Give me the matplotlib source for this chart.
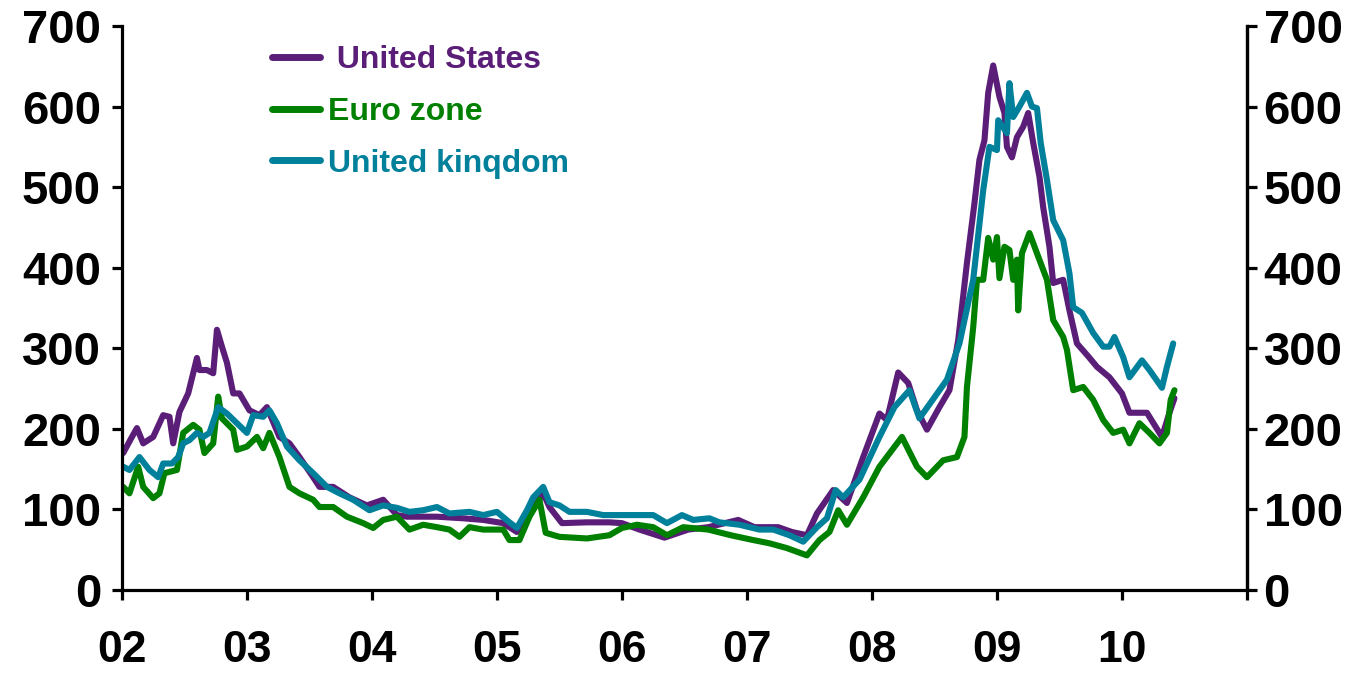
import numpy as np
import matplotlib
matplotlib.use("Agg")
import matplotlib.pyplot as plt

plt.rcParams['font.family'] = ['Liberation Sans', 'DejaVu Sans']
plt.rcParams['font.weight'] = 'bold'

# --- data (decimal year, value) ----------------------------------------------
us_t = [2002.01, 2002.08, 2002.12, 2002.17, 2002.25, 2002.33, 2002.38, 2002.41, 2002.46,
        2002.53, 2002.6, 2002.62, 2002.68, 2002.73, 2002.76, 2002.8, 2002.84, 2002.89,
        2002.94, 2003.02, 2003.1, 2003.16, 2003.26, 2003.34, 2003.42, 2003.53, 2003.58,
        2003.69, 2003.82, 2003.96, 2004.09, 2004.2, 2004.28, 2004.52, 2004.73, 2004.89,
        2005.05, 2005.16, 2005.24, 2005.37, 2005.42, 2005.52, 2005.72, 2005.9, 2006.0,
        2006.14, 2006.34, 2006.53, 2006.69, 2006.93, 2007.06, 2007.25, 2007.36, 2007.48,
        2007.56, 2007.69, 2007.8, 2007.93, 2008.06, 2008.12, 2008.21, 2008.29, 2008.36,
        2008.44, 2008.54, 2008.62, 2008.69, 2008.76, 2008.82, 2008.86, 2008.9, 2008.93,
        2008.97, 2009.02, 2009.06, 2009.08, 2009.12, 2009.16, 2009.21, 2009.25, 2009.29,
        2009.34, 2009.37, 2009.42, 2009.45, 2009.53, 2009.58, 2009.64, 2009.73, 2009.8,
        2009.9, 2010.0, 2010.06, 2010.2, 2010.3, 2010.32, 2010.38, 2010.42]
us_v = [170, 190, 201, 182, 190, 217, 215, 182, 221,
        244, 288, 273, 273, 269, 323, 302, 282, 244,
        244, 223, 217, 227, 190, 182, 165, 140, 128,
        128, 115, 105, 112, 93, 91, 91, 89, 87,
        83, 72, 91, 120, 103, 83, 84, 84, 83,
        75, 65, 75, 78, 87, 78, 78, 72, 68,
        95, 124, 108, 165, 219, 211, 270, 257, 223,
        199, 227, 248, 310, 406, 480, 534, 558, 617,
        651, 612, 592, 550, 537, 562, 575, 592, 555,
        513, 475, 426, 381, 385, 347, 306, 290, 277,
        264, 244, 220, 220, 195, 190, 220, 238]

ez_t = [2002.01, 2002.06, 2002.13, 2002.17, 2002.25, 2002.3, 2002.34, 2002.44, 2002.49,
        2002.57, 2002.62, 2002.66, 2002.73, 2002.77, 2002.8, 2002.89, 2002.92, 2003.0,
        2003.08, 2003.13, 2003.18, 2003.26, 2003.34, 2003.42, 2003.53, 2003.58, 2003.69,
        2003.8, 2003.93, 2004.01, 2004.09, 2004.2, 2004.3, 2004.41, 2004.52, 2004.62,
        2004.7, 2004.78, 2004.89, 2005.05, 2005.1, 2005.18, 2005.26, 2005.34, 2005.39,
        2005.5, 2005.72, 2005.9, 2006.0, 2006.12, 2006.25, 2006.36, 2006.49, 2006.69,
        2006.87, 2007.05, 2007.18, 2007.32, 2007.48, 2007.58, 2007.66, 2007.73, 2007.8,
        2007.93, 2008.06, 2008.24, 2008.36, 2008.44, 2008.57, 2008.68, 2008.74, 2008.76,
        2008.81, 2008.84, 2008.89, 2008.93, 2008.97, 2009.0, 2009.02, 2009.06, 2009.1,
        2009.13, 2009.16, 2009.17, 2009.2, 2009.26, 2009.32, 2009.4, 2009.45, 2009.53,
        2009.56, 2009.61, 2009.69, 2009.77, 2009.85, 2009.93, 2010.01, 2010.06, 2010.14,
        2010.22, 2010.3, 2010.36, 2010.39, 2010.42]
ez_v = [128, 120, 153, 128, 114, 120, 145, 149, 195,
        205, 199, 170, 182, 240, 213, 199, 174, 178,
        190, 176, 195, 165, 128, 120, 112, 103, 103,
        91, 83, 77, 87, 91, 75, 81, 78, 75,
        66, 78, 75, 75, 62, 62, 91, 112, 71,
        66, 64, 68, 77, 81, 78, 68, 78, 75,
        68, 62, 58, 52, 43, 62, 72, 99, 81,
        115, 153, 190, 153, 140, 161, 165, 190, 252,
        326, 385, 385, 437, 410, 438, 387, 426, 422,
        385, 410, 347, 418, 443, 418, 385, 335, 314,
        298, 248, 252, 236, 211, 195, 199, 182, 207,
        195, 182, 195, 236, 248]

uk_t = [2002.01, 2002.06, 2002.14, 2002.22, 2002.29, 2002.33, 2002.4, 2002.45, 2002.49,
        2002.54, 2002.6, 2002.65, 2002.7, 2002.77, 2002.84, 2002.92, 2003.0, 2003.05,
        2003.13, 2003.18, 2003.24, 2003.32, 2003.42, 2003.53, 2003.64, 2003.74, 2003.85,
        2003.98, 2004.09, 2004.2, 2004.3, 2004.41, 2004.52, 2004.62, 2004.78, 2004.89,
        2005.0, 2005.1, 2005.16, 2005.24, 2005.29, 2005.37, 2005.42, 2005.5, 2005.58,
        2005.72, 2005.85, 2006.06, 2006.14, 2006.25, 2006.36, 2006.48, 2006.57, 2006.7,
        2006.78, 2006.94, 2007.1, 2007.21, 2007.34, 2007.45, 2007.56, 2007.64, 2007.71,
        2007.77, 2007.9, 2008.06, 2008.18, 2008.3, 2008.38, 2008.6, 2008.7, 2008.81,
        2008.89, 2008.94, 2009.0, 2009.01, 2009.08, 2009.1, 2009.13, 2009.18, 2009.24,
        2009.28, 2009.32, 2009.35, 2009.4, 2009.45, 2009.53, 2009.58, 2009.61, 2009.68,
        2009.77, 2009.85, 2009.9, 2009.94, 2010.01, 2010.06, 2010.16, 2010.22, 2010.32,
        2010.36, 2010.41]
uk_v = [153, 149, 165, 149, 140, 157, 157, 165, 182,
        186, 195, 190, 195, 227, 219, 207, 195, 217,
        215, 223, 207, 178, 161, 145, 128, 120, 112,
        99, 105, 102, 97, 99, 103, 95, 97, 93,
        97, 84, 77, 99, 115, 128, 109, 105, 97,
        97, 93, 93, 93, 93, 83, 93, 87, 89,
        84, 81, 75, 75, 68, 60, 78, 89, 124,
        115, 137, 190, 227, 248, 213, 261, 306, 385,
        496, 550, 546, 583, 567, 629, 587, 600, 617,
        600, 598, 555, 509, 459, 434, 393, 351, 344,
        319, 302, 302, 314, 289, 264, 285, 273, 251,
        277, 306]

years = list(range(2002, 2012))
year_labels = ["02", "03", "04", "05", "06", "07", "08", "09", "10", ""]
y_ticks = [0, 100, 200, 300, 400, 500, 600, 700]

c_us = '#5b1e78'
c_ez = '#008000'
c_uk = '#00809a'

fig = plt.figure(figsize=(13.61, 6.73), dpi=100)
ax = fig.add_axes([0.0896, 0.1233, 0.8266, 0.8381])

lw = 4.4
ax.plot(us_t, us_v, color=c_us, lw=lw, solid_joinstyle='round', solid_capstyle='round', label=' United States')
ax.plot(ez_t, ez_v, color=c_ez, lw=lw, solid_joinstyle='round', solid_capstyle='round', label='Euro zone')
ax.plot(uk_t, uk_v, color=c_uk, lw=lw, solid_joinstyle='round', solid_capstyle='round', label='United kinqdom')

ax.set_xlim(2002, 2011)
ax.set_ylim(0, 700)
ax.set_xticks(years)
ax.set_xticklabels(year_labels)
ax.set_yticks(y_ticks)

ax2 = ax.twinx()
ax2.set_ylim(0, 700)
ax2.set_yticks(y_ticks)

for a in (ax, ax2):
    for s in a.spines.values():
        s.set_linewidth(2.3)
    a.spines['top'].set_visible(False)
ax2.spines['left'].set_visible(False)
ax2.spines['bottom'].set_visible(False)

ax.tick_params(axis='y', direction='out', length=7, width=2.3, labelsize=34, pad=8)
ax.tick_params(axis='x', direction='out', length=7, width=2.3, labelsize=32, pad=22)
ax2.tick_params(axis='y', direction='out', length=7, width=2.3, labelsize=34, pad=5)
for lab in ax.get_xticklabels() + ax.get_yticklabels() + ax2.get_yticklabels():
    lab.set_fontweight('bold')

leg = ax.legend(loc='upper left', bbox_to_anchor=(0.116, 1.0), frameon=False,
                fontsize=23, labelcolor='linecolor', handlelength=1.5,
                handletextpad=0.25, labelspacing=0.68, borderaxespad=0.2)
for t in leg.get_texts():
    t.set_fontweight('bold')
for h in leg.get_lines():
    h.set_linewidth(5)

fig.savefig('out.png', dpi=100)
